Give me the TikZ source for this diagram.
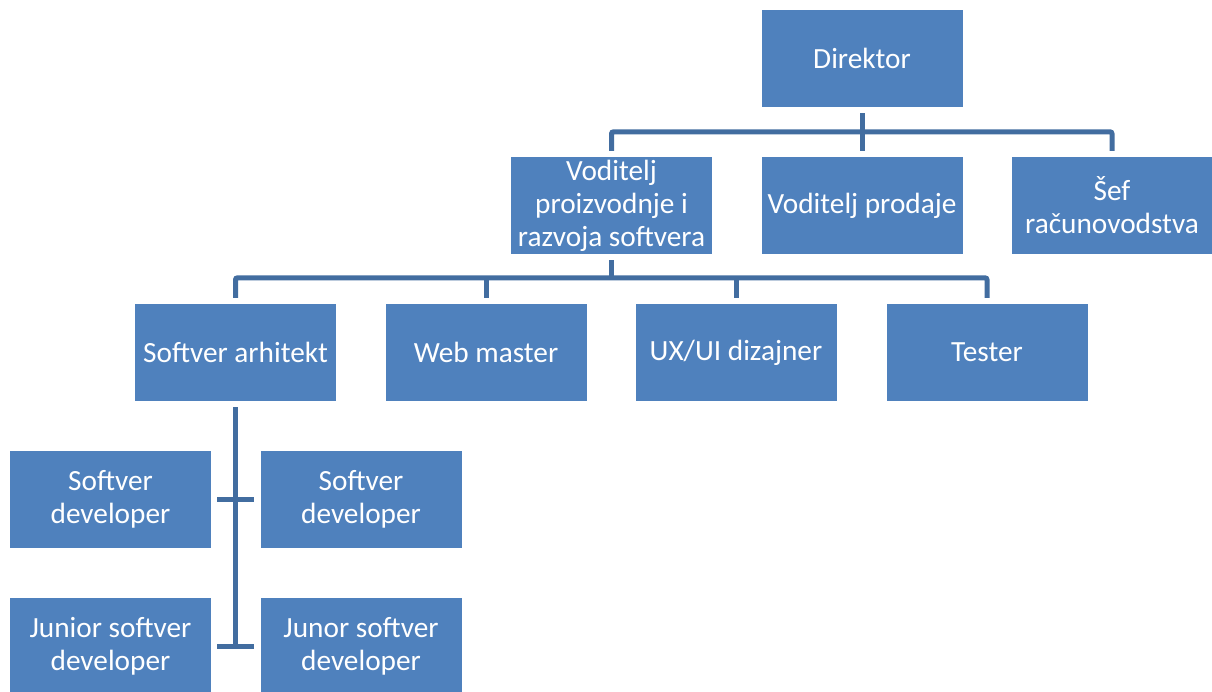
\documentclass[tikz,border=0pt]{standalone}
\usepackage{fontspec}
\setmainfont{Carlito}
\usetikzlibrary{calc}
\definecolor{boxblue}{RGB}{79,129,189}
\definecolor{linecol}{RGB}{66,109,160}
\begin{document}
\begin{tikzpicture}[x=1pt,y=-1pt,
  box/.style={fill=boxblue,draw=none,minimum width=201pt,minimum height=97pt,inner sep=1pt,
    text=white,align=center,font=\fontsize{29.3}{33}\selectfont},
  conn/.style={draw=linecol,line width=5pt,rounded corners=2pt}]
\useasboundingbox (0,0) rectangle (1212,692);
\node[box] (dir) at (862,58.5) {Direktor};
\node[box] (vp) at (611.5,205.5) {Voditelj\\proizvodnje i\\razvoja softvera};
\node[box] (vprod) at (862,205.5) {Voditelj prodaje};
\node[box] (sef) at (1112,205.5) {Šef\\računovodstva};
\node[box] (arh) at (235.5,352.5) {Softver arhitekt};
\node[box] (web) at (486,352.5) {Web master};
\node[box] (ux) at (736,352.5) {UX/UI dizajner};
\node[box] (tes) at (987,352.5) {Tester};
\node[box] (dev1) at (110.5,499.5) {Softver\\developer};
\node[box] (dev2) at (361,499.5) {Softver\\developer};
\node[box] (jun1) at (110.5,646.5) {Junior softver\\developer};
\node[box] (jun2) at (361,646.5) {Junor softver\\developer};
% level 1
\draw[conn] ($(vp.north)+(0,-6)$) |- ($(sef.north)+(0,-25)$) -- ($(sef.north)+(0,-6)$);
\draw[conn] ($(dir.south)+(0,6)$) -- ($(vprod.north)+(0,-6)$);
% level 2
\draw[conn] ($(arh.north)+(0,-6)$) |- ($(tes.north)+(0,-26)$) -- ($(tes.north)+(0,-6)$);
\draw[conn] ($(vp.south)+(0,6)$) -- ($(vp.south)+(0,24)$);
\draw[conn] ($(web.north)+(0,-6)$) -- ($(web.north)+(0,-26)$);
\draw[conn] ($(ux.north)+(0,-6)$) -- ($(ux.north)+(0,-26)$);
% level 3
\draw[conn] ($(arh.south)+(0,6)$) -- ($(arh.south |- jun1.east)$);
\draw[conn] ($(dev1.east)+(6,0)$) -- ($(dev2.west)+(-6,0)$);
\draw[conn] ($(jun1.east)+(6,0)$) -- ($(jun2.west)+(-6,0)$);
\end{tikzpicture}
\end{document}
